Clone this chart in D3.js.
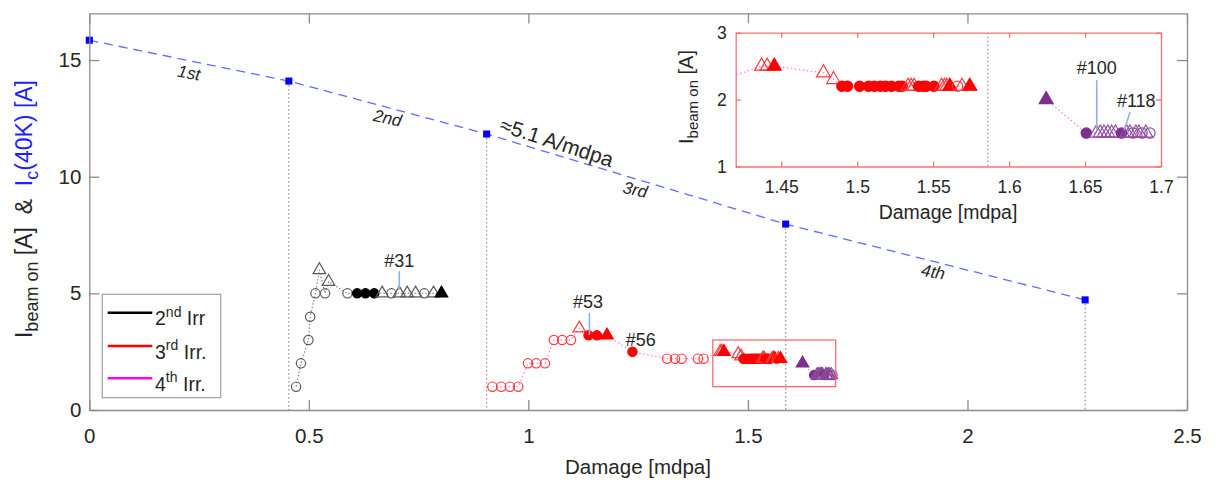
<!DOCTYPE html>
<html><head><meta charset="utf-8">
<script src="https://cdn.jsdelivr.net/npm/d3@7"></script>
<style>body{margin:0;background:#fff} text{font-family:"Liberation Sans",Arial,Helvetica,sans-serif}</style>
</head><body><svg id="c" width="1214" height="484"></svg>
<script>
// ---------- data ----------
const xTicks = [0, 0.5, 1, 1.5, 2, 2.5];
const yTicks = [0, 5, 10, 15];
const insetXTicks = [1.45, 1.5, 1.55, 1.6, 1.65, 1.7];
const insetYTicks = [1, 2, 3];

// Ic(40K) after each irradiation
const icX = [0, 0.4545, 0.905, 1.586, 2.268];
const icY = [15.85, 14.1, 11.83, 7.97, 4.72];
const segLabels = ["1st", "2nd", "3rd", "4th"];

// 2nd irradiation (o open circle, O filled circle, t open triangle, T filled triangle)
const irr2X = [0.471, 0.482, 0.499, 0.503, 0.515, 0.524, 0.537, 0.545, 0.588, 0.610, 0.629, 0.649, 0.667, 0.688, 0.706, 0.724, 0.743, 0.763, 0.784, 0.802];
const irr2Y = [1, 2, 3, 4, 5, 6, 5, 5.5, 5, 5, 5, 5, 5, 5, 5, 5, 5, 5, 5, 5];
const irr2M = ["o","o","o","o","o","t","o","t","o","O","O","O","t","o","t","t","t","o","t","T"];

// 3rd irradiation
const irr3X = [0.918, 0.938, 0.958, 0.977, 0.999, 1.018, 1.038, 1.058, 1.077, 1.097, 1.116, 1.137, 1.156, 1.179, 1.237,
  1.316, 1.334, 1.349, 1.386, 1.399, 1.437, 1.4407, 1.4454, 1.4778, 1.4844,
  1.4899, 1.4936, 1.5016, 1.5075, 1.5113, 1.5153, 1.5186, 1.5226, 1.5274, 1.5296,
  1.5335, 1.5355, 1.5375, 1.5405, 1.5435, 1.5455, 1.5505, 1.5555, 1.5575, 1.5590, 1.5610, 1.5660, 1.5690, 1.5741];
const irr3Y = [1, 1, 1, 1, 2, 2, 2, 3, 3, 3, 3.5, 3.2, 3.2, 3.2, 2.5,
  2.2, 2.2, 2.2, 2.2, 2.2, 2.5, 2.5, 2.5, 2.4, 2.3,
  2.2, 2.2, 2.2, 2.2, 2.2, 2.2, 2.2, 2.2, 2.2, 2.2,
  2.2, 2.2, 2.2, 2.2, 2.2, 2.2, 2.2, 2.2, 2.2, 2.2, 2.2, 2.2, 2.2, 2.2];
const irr3M = ["o","o","o","o","o","o","o","o","o","o","t","O","O","T","O",
  "o","o","o","o","o","t","t","T","t","t",
  "O","O","O","O","O","O","O","O","O","O",
  "t","t","t","O","O","O","O","t","t","t","T","o","t","T"];

// 4th irradiation
const irr4X = [1.6244, 1.6508, 1.6575, 1.6600, 1.6625, 1.6650, 1.6675, 1.6700, 1.6740, 1.6775, 1.6795, 1.6815, 1.6835, 1.6855, 1.6875, 1.6900, 1.6927];
const irr4Y = [2.0, 1.5, 1.5, 1.5, 1.5, 1.5, 1.5, 1.5, 1.5, 1.5, 1.5, 1.5, 1.5, 1.5, 1.5, 1.5, 1.5];
const irr4M = ["T","O","t","t","t","t","t","t","O","t","t","o","t","t","o","t","o"];

const legendLabels = [["2", "nd", " Irr"], ["3", "rd", " Irr."], ["4", "th", " Irr."]];
const legendColors = ["#000000", "#ff0000", "#ff00ff"];

// ---------- drawing ----------
const W = 1214, H = 484;
const svg = d3.select('#c');
svg.append('rect').attr('width', W).attr('height', H).attr('fill', '#fff');
const TXT = '#262626', FRAME = '#8c8c8c';

const x = d3.scaleLinear().domain([0, 2.5]).range([89.3, 1187]);
const y = d3.scaleLinear().domain([0, 17]).range([410, 13.4]);

function pts(xs, ys, ms) { return xs.map((v, i) => ({ x: v, y: ys[i], m: ms ? ms[i] : null })); }

function seriesLine(g, data, sx, sy, col, dash) {
  g.append('path').datum(data)
    .attr('d', d3.line().x(d => sx(d.x)).y(d => sy(d.y)))
    .attr('fill', 'none').attr('stroke', col).attr('stroke-width', 1.3)
    .attr('stroke-dasharray', dash);
}
function markers(g, data, sx, sy, col, openCol, sz) {
  g.selectAll(null).data(data).join('path')
    .attr('transform', d => `translate(${sx(d.x)},${sy(d.y)})`)
    .attr('d', d => {
      const circ = d.m.toLowerCase() === 'o';
      return d3.symbol(circ ? d3.symbolCircle : d3.symbolTriangle, circ ? sz : sz * 1.0)();
    })
    .attr('fill', d => (d.m === 'O' || d.m === 'T') ? col : 'none')
    .attr('stroke', d => (d.m === 'O' || d.m === 'T') ? col : openCol)
    .attr('stroke-width', 1.2);
}

const main = svg.append('g');

// vertical dotted lines
main.selectAll('line.vd').data(pts(icX.slice(1), icY.slice(1))).join('line')
  .attr('x1', d => x(d.x)).attr('x2', d => x(d.x))
  .attr('y1', d => y(d.y)).attr('y2', y(0))
  .attr('stroke', '#777').attr('stroke-width', 1).attr('stroke-dasharray', '1.5,2.5');

// Ic line
const icData = pts(icX, icY);
main.append('path').datum(icData)
  .attr('d', d3.line().x(d => x(d.x)).y(d => y(d.y)))
  .attr('fill', 'none').attr('stroke', '#5f6dff').attr('stroke-width', 1.3).attr('stroke-dasharray', '9,6');
main.selectAll('path.sq').data(icData).join('path')
  .attr('transform', d => `translate(${x(d.x)},${y(d.y)})`)
  .attr('d', d3.symbol(d3.symbolSquare, 50)()).attr('fill', '#0000ff');

// segment labels
const segPos = [[0.227, 14.44, 10], [0.679, 12.5, 12], [1.243, 9.43, 12], [1.922, 5.91, 10]];
segLabels.forEach((s, i) => {
  const [px, py, r] = segPos[i];
  main.append('text').attr('transform', `translate(${x(px)},${y(py)}) rotate(${r})`)
    .attr('text-anchor', 'middle').attr('dominant-baseline', 'central')
    .attr('font-size', 17).attr('font-style', 'italic').attr('fill', TXT).text(s);
});
main.append('text').attr('transform', `translate(${x(1.065)},${y(11.49)}) rotate(18)`)
  .attr('text-anchor', 'middle').attr('dominant-baseline', 'central')
  .attr('font-size', 21).attr('fill', TXT).text('\u22485.1 A/mdpa');

// series in main
const d2 = pts(irr2X, irr2Y, irr2M), d3s = pts(irr3X, irr3Y, irr3M), d4 = pts(irr4X, irr4Y, irr4M);
seriesLine(main, d2, x, y, '#8c8c8c', '1.5,2');
seriesLine(main, d3s, x, y, '#ff80ff', '1.5,2.5');
seriesLine(main, d4, x, y, '#ff80ff', '1.5,2.5');
markers(main, d2, x, y, '#000', '#5a5a5a', 68);
markers(main, d3s, x, y, '#ff0000', '#ff3a3a', 68);
markers(main, d4, x, y, '#7e2f8e', '#8a4a9a', 68);

// annotations main
const LEAD = '#8fb0e3';
function note(g, sx, sy, lx, ly, txt, x1, y1, x2, y2) {
  if (x1 != null) g.append('line').attr('x1', sx(x1)).attr('y1', sy(y1)).attr('x2', sx(x2)).attr('y2', sy(y2))
    .attr('stroke', LEAD).attr('stroke-width', 1.6);
  g.append('text').attr('x', sx(lx)).attr('y', sy(ly)).attr('text-anchor', 'middle')
    .attr('font-size', 18).attr('fill', TXT).text(txt);
}
note(main, x, y, 0.706, 6.13, '#31', 0.706, 5.95, 0.706, 5.15);
note(main, x, y, 1.136, 4.36, '#53', 1.139, 4.17, 1.139, 3.22);
note(main, x, y, 1.256, 2.76, '#56');

// red zoom rectangle
main.append('rect').attr('x', x(1.42)).attr('y', y(3)).attr('width', x(1.7) - x(1.42)).attr('height', y(1) - y(3))
  .attr('fill', 'none').attr('stroke', '#ff6060').attr('stroke-width', 1.2);

// main axes
function styleAxis(g, col, fs) {
  g.select('.domain').attr('stroke', col).attr('stroke-width', 1.3);
  g.selectAll('.tick line').attr('stroke', col).attr('stroke-width', 1.3);
  g.selectAll('.tick text').attr('fill', TXT).attr('font-size', fs).attr('font-family', '"Liberation Sans",Arial,sans-serif');
}
styleAxis(svg.append('g').attr('transform', `translate(0,${y(0)})`)
  .call(d3.axisBottom(x).tickValues(xTicks).tickFormat(d3.format('~g')).tickSizeInner(-10).tickSizeOuter(0).tickPadding(18.5)), FRAME, 20.5);
styleAxis(svg.append('g').attr('transform', `translate(0,${y(17)})`)
  .call(d3.axisTop(x).tickValues(xTicks).tickFormat('').tickSizeInner(-10).tickSizeOuter(0)), FRAME, 20.5);
styleAxis(svg.append('g').attr('transform', `translate(${x(0)},0)`)
  .call(d3.axisLeft(y).tickValues(yTicks).tickSizeInner(-10).tickSizeOuter(0).tickPadding(8)), FRAME, 20.5);
styleAxis(svg.append('g').attr('transform', `translate(${x(2.5)},0)`)
  .call(d3.axisRight(y).tickValues(yTicks).tickFormat('').tickSizeInner(-10).tickSizeOuter(0)), FRAME, 20.5);

svg.append('text').attr('x', 638).attr('y', 474).attr('text-anchor', 'middle')
  .attr('font-size', 20.5).attr('fill', TXT).text('Damage [mdpa]');

// y label
const yl = svg.append('text').attr('transform', 'translate(32,209) rotate(-90)')
  .attr('text-anchor', 'middle').attr('font-size', 23).attr('fill', TXT);
yl.append('tspan').text('I');
yl.append('tspan').attr('font-size', 18).attr('dy', 6).text('beam on');
yl.append('tspan').attr('dy', -6).text('\u00a0[A]\u00a0\u00a0&\u00a0\u00a0');
yl.append('tspan').attr('fill', '#1f1fff').text('I');
yl.append('tspan').attr('fill', '#1f1fff').attr('font-size', 18).attr('dy', 6).text('c');
yl.append('tspan').attr('fill', '#1f1fff').attr('dy', -6).text('(40K) [A]');

// legend
const lg = svg.append('g');
lg.append('rect').attr('x', 102.3).attr('y', 294.3).attr('width', 118.4).attr('height', 103.4)
  .attr('fill', '#fff').attr('stroke', '#a0a0a0').attr('stroke-width', 1.2);
const legY = [312.7, 346, 378.3];
legendLabels.forEach((lab, i) => {
  lg.append('line').attr('x1', 107.7).attr('x2', 152.3).attr('y1', legY[i]).attr('y2', legY[i])
    .attr('stroke', legendColors[i]).attr('stroke-width', 2.6);
  const t = lg.append('text').attr('x', 155).attr('y', legY[i] + 12.5).attr('font-size', 19.5).attr('fill', TXT);
  t.append('tspan').text(lab[0]);
  t.append('tspan').attr('font-size', 14).attr('dy', -8.5).text(lab[1]);
  t.append('tspan').attr('dy', 8.5).text(lab[2]);
});

// ---------- inset ----------
const xi = d3.scaleLinear().domain([1.42, 1.7]).range([735.7, 1161]);
const yi = d3.scaleLinear().domain([1, 3]).range([166.5, 32.7]);
const ins = svg.append('g');
ins.append('rect').attr('x', xi(1.42)).attr('y', yi(3)).attr('width', xi(1.7) - xi(1.42)).attr('height', yi(1) - yi(3)).attr('fill', '#fff');
svg.append('clipPath').attr('id', 'ic').append('rect')
  .attr('x', xi(1.42)).attr('y', yi(3)).attr('width', xi(1.7) - xi(1.42)).attr('height', yi(1) - yi(3));
const ic = ins.append('g').attr('clip-path', 'url(#ic)');
ic.append('line').attr('x1', xi(icX[3])).attr('x2', xi(icX[3])).attr('y1', yi(3)).attr('y2', yi(1))
  .attr('stroke', '#777').attr('stroke-dasharray', '1.5,2.5');
seriesLine(ic, d3s, xi, yi, '#ff80ff', '1.5,2.5');
seriesLine(ic, d4, xi, yi, '#ff80ff', '1.5,2.5');
markers(ic, d3s.filter(d => d.x >= 1.41), xi, yi, '#ff0000', '#ff3a3a', 84);
markers(ic, d4, xi, yi, '#7e2f8e', '#9050a0', 84);
note(ins, xi, yi, 1.6577, 2.39, '#100', 1.6577, 2.29, 1.6577, 1.55);
note(ins, xi, yi, 1.6837, 1.885, '#118', 1.6797, 1.82, 1.6758, 1.546);

const RF = '#ff7070';
styleAxis(ins.append('g').attr('transform', `translate(0,${yi(1)})`)
  .call(d3.axisBottom(xi).tickValues(insetXTicks).tickFormat(d3.format('~g')).tickSizeInner(-5).tickSizeOuter(0).tickPadding(14.5)), RF, 17.5);
styleAxis(ins.append('g').attr('transform', `translate(0,${yi(3)})`)
  .call(d3.axisTop(xi).tickValues(insetXTicks).tickFormat('').tickSizeInner(-5).tickSizeOuter(0)), RF, 17.5);
styleAxis(ins.append('g').attr('transform', `translate(${xi(1.42)},0)`)
  .call(d3.axisLeft(yi).tickValues(insetYTicks).tickFormat(d3.format('d')).tickSizeInner(-5).tickSizeOuter(0).tickPadding(9)), RF, 17.5);
styleAxis(ins.append('g').attr('transform', `translate(${xi(1.7)},0)`)
  .call(d3.axisRight(yi).tickValues(insetYTicks).tickFormat('').tickSizeInner(-5).tickSizeOuter(0)), RF, 17.5);

ins.append('text').attr('x', 948).attr('y', 219).attr('text-anchor', 'middle')
  .attr('font-size', 19.5).attr('fill', TXT).text('Damage [mdpa]');
const iyl = ins.append('text').attr('transform', 'translate(693,97) rotate(-90)')
  .attr('text-anchor', 'middle').attr('font-size', 20).attr('fill', TXT);
iyl.append('tspan').text('I');
iyl.append('tspan').attr('font-size', 15).attr('dy', 5).text('beam on');
iyl.append('tspan').attr('dy', -5).text('\u00a0[A]');
</script></body></html>
